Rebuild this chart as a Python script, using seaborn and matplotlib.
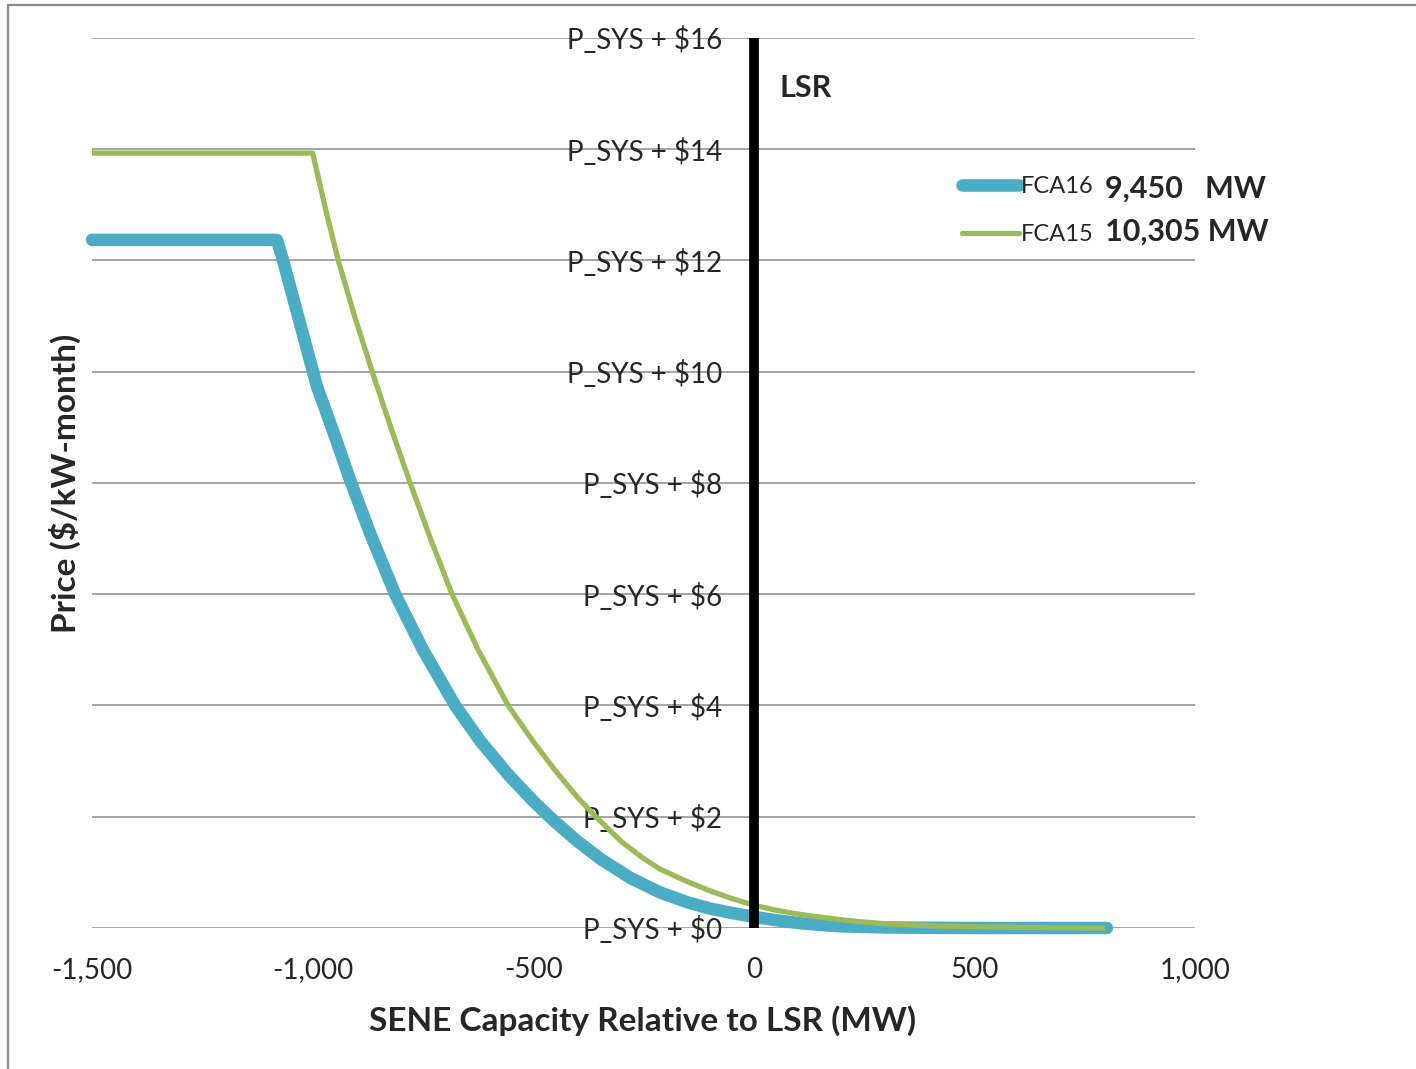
import matplotlib
matplotlib.use("Agg")
import matplotlib.pyplot as plt
from matplotlib.lines import Line2D
from matplotlib.ticker import FuncFormatter
import seaborn as sns
import pandas as pd

# Demand curve data: SENE capacity relative to LSR (MW) vs price adder ($/kW-month)
x_fca16 = [-1500, -1081, -1067, -990, -950, -915, -870, -813, -750, -677, -620, -557,
           -500, -455, -400, -349, -280, -213, -150, -100, -50, 0, 50, 100, 150, 200,
           300, 400, 500, 800]
y_fca16 = [12.37, 12.37, 12.0, 9.73, 8.85, 8.05, 7.1, 6.0, 5.0, 4.0, 3.36, 2.76,
           2.28, 1.94, 1.56, 1.25, 0.90, 0.64, 0.46, 0.35, 0.27, 0.20, 0.14, 0.09, 0.055, 0.03,
           0.01, 0.004, 0.0, 0.0]

x_fca15 = [-1500, -1000, -970, -942, -905, -865, -823, -779, -733, -684, -625, -557,
           -500, -446, -400, -358, -300, -250, -213, -150, -100, -50, 0, 50, 100, 166,
           230, 300, 400, 500, 650, 796]
y_fca15 = [13.93, 13.93, 12.9, 12.0, 11.0, 10.0, 9.0, 8.0, 7.0, 6.0, 5.0, 4.0,
           3.35, 2.79, 2.35, 2.0, 1.55, 1.25, 1.06, 0.83, 0.67, 0.53, 0.41, 0.32, 0.25, 0.18,
           0.12, 0.075, 0.04, 0.02, 0.008, 0.0]

series_labels = ["FCA16", "FCA15"]
series_totals = ["9,450   MW", "10,305 MW"]
y_ticks = [0, 2, 4, 6, 8, 10, 12, 14, 16]
y_tick_labels = [f"P_SYS + ${v}" for v in y_ticks]
x_ticks = [-1500, -1000, -500, 0, 500, 1000]
lsr_x = 0

blue = "#4BACC6"
green = "#9BBB59"

sns.set_style("white")
plt.rcParams["font.family"] = ["Lato", "DejaVu Sans"]
plt.rcParams["text.parse_math"] = False

fig = plt.figure(figsize=(14.16, 10.69), dpi=100)
ax = fig.add_axes([0.065, 0.1319, 0.779, 0.8326])

df16 = pd.DataFrame({"x": x_fca16, "y": y_fca16})
df15 = pd.DataFrame({"x": x_fca15, "y": y_fca15})

sns.lineplot(data=df16, x="x", y="y", ax=ax, color=blue, linewidth=9,
             solid_capstyle="round", solid_joinstyle="round", clip_on=False, zorder=3)
sns.lineplot(data=df15, x="x", y="y", ax=ax, color=green, linewidth=3.8,
             solid_capstyle="butt", solid_joinstyle="round", clip_on=False, zorder=4)

# LSR reference line
ax.plot([lsr_x, lsr_x], [0, 16], color="black", linewidth=7, solid_capstyle="butt",
        clip_on=False, zorder=5)
ax.text(lsr_x + 59, 15.1, "LSR", fontsize=22, fontweight="bold", ha="left", va="center")

ax.set_xlim(-1500, 1000)
ax.set_ylim(0, 16)
ax.set_xticks(x_ticks)
ax.xaxis.set_major_formatter(FuncFormatter(lambda v, p: f"{int(v):,}"))
ax.set_yticks(y_ticks)
ax.set_yticklabels(y_tick_labels)

# Price labels sit next to the LSR line
ax.spines["left"].set_position(("data", lsr_x))
for s in ax.spines.values():
    s.set_visible(False)
ax.tick_params(axis="y", length=0, pad=23, labelsize=20, colors="#262626")
ax.tick_params(axis="x", length=0, pad=21, labelsize=20, colors="#262626")
ax.grid(axis="y", color="#8c8c8c", linewidth=1.1)
ax.grid(axis="x", visible=False)
ax.set_xlabel("")
ax.set_ylabel("")

fig.text(0.454, 0.045, "SENE Capacity Relative to LSR (MW)", fontsize=24,
         fontweight="bold", ha="center", va="center")
fig.text(0.046, 0.548, "Price ($/kW-month)", fontsize=24, fontweight="bold",
         ha="center", va="center", rotation=90)

# Legend with capacity totals
handles = [Line2D([0], [0], color=blue, linewidth=9, solid_capstyle="round"),
           Line2D([0], [0], color=green, linewidth=3.8)]
ax.legend(handles, series_labels, loc="upper left",
          bbox_to_anchor=(962 / 1416, 1 - 176 / 1069), bbox_transform=fig.transFigure,
          frameon=False, fontsize=17, handlelength=2.4, handletextpad=0.08,
          borderpad=0, borderaxespad=0, labelspacing=1.15)
for i, txt in enumerate(series_totals):
    fig.text(1105 / 1416, 1 - (189 + 43 * i) / 1069, txt, fontsize=22,
             fontweight="bold", ha="left", va="center")

# Chart frame (left and top edges)
fig.add_artist(Line2D([8 / 1416, 8 / 1416], [0, 1 - 5 / 1069], color="#8a8a8a",
                      linewidth=1.6, transform=fig.transFigure))
fig.add_artist(Line2D([8 / 1416, 1], [1 - 5 / 1069, 1 - 5 / 1069], color="#8a8a8a",
                      linewidth=1.6, transform=fig.transFigure))

fig.savefig("out.png", dpi=100)
